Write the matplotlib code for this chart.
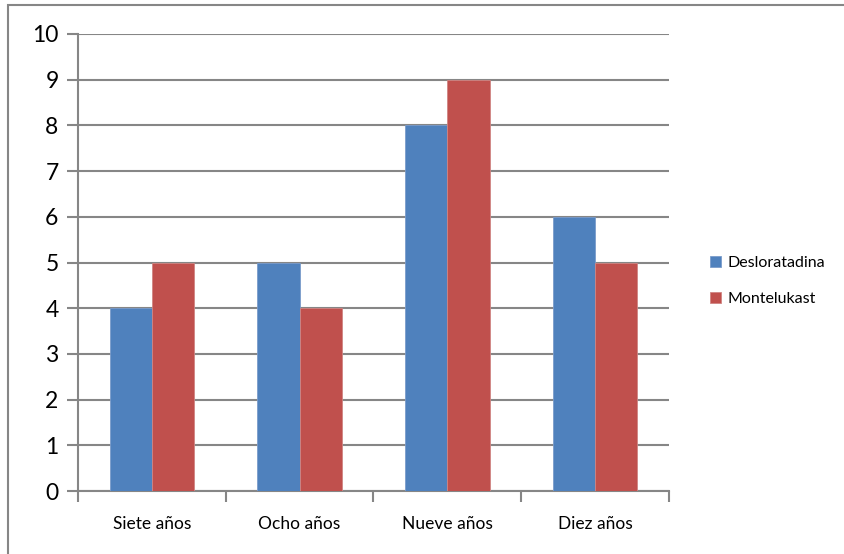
import numpy as np
import matplotlib.pyplot as plt
from matplotlib.patches import Rectangle

# Datos por grupo de edad
categorias = ['Siete años', 'Ocho años', 'Nueve años', 'Diez años']
desloratadina = [4, 5, 8, 6]
montelukast = [5, 4, 9, 5]
series = ['Desloratadina', 'Montelukast']

azul = '#4F81BD'
rojo = '#C0504D'
gris = '#868686'

plt.rcParams['font.family'] = ['Lato', 'DejaVu Sans']

fig = plt.figure(figsize=(8.45, 5.54), dpi=100)
ax = fig.add_axes([78 / 845, 1 - 491 / 554, (669 - 78) / 845, (491 - 34) / 554])

# marco exterior del gráfico
fig.patches.append(Rectangle((8 / 845, -0.05), 1.1, 1 - 5 / 554 + 0.05,
                             transform=fig.transFigure, fill=False,
                             edgecolor=gris, linewidth=1.5))

x = np.arange(len(categorias))
w = 1 / 3.5
ax.bar(x - w / 2, desloratadina, w, color=azul, edgecolor='#7A9CCB', linewidth=0.6,
       label=series[0], zorder=3)
ax.bar(x + w / 2, montelukast, w, color=rojo, edgecolor='#D08583', linewidth=0.6,
       label=series[1], zorder=3)

ax.set_xlim(-0.5, len(categorias) - 0.5)
ax.set_ylim(0, 10)
ax.set_yticks(range(0, 11))
ax.yaxis.grid(True, color=gris, linewidth=1.5, zorder=0)

# marcas del eje x entre categorías
ax.set_xticks(np.arange(-0.5, len(categorias)), minor=False)
ax.set_xticklabels([])
ax.set_xticks(x, minor=True)
ax.set_xticklabels(categorias, minor=True, fontsize=12.5)
ax.tick_params(axis='x', which='major', length=8, width=1.5, color=gris, direction='out')
ax.tick_params(axis='x', which='minor', length=0, pad=18)
ax.tick_params(axis='y', length=8, width=1.5, color=gris, labelsize=16.5, pad=6)

for s in ['top', 'right']:
    ax.spines[s].set_visible(False)
for s in ['left', 'bottom']:
    ax.spines[s].set_color(gris)
    ax.spines[s].set_linewidth(1.5)

ax.legend(loc='center left', bbox_to_anchor=(710 / 845, 1 - 281 / 554),
          bbox_transform=fig.transFigure, frameon=False, fontsize=11.5,
          handlelength=0.7, handleheight=0.7, handletextpad=0.4, labelspacing=1.4,
          borderaxespad=0, borderpad=0)

fig.savefig('out.png', dpi=100)
